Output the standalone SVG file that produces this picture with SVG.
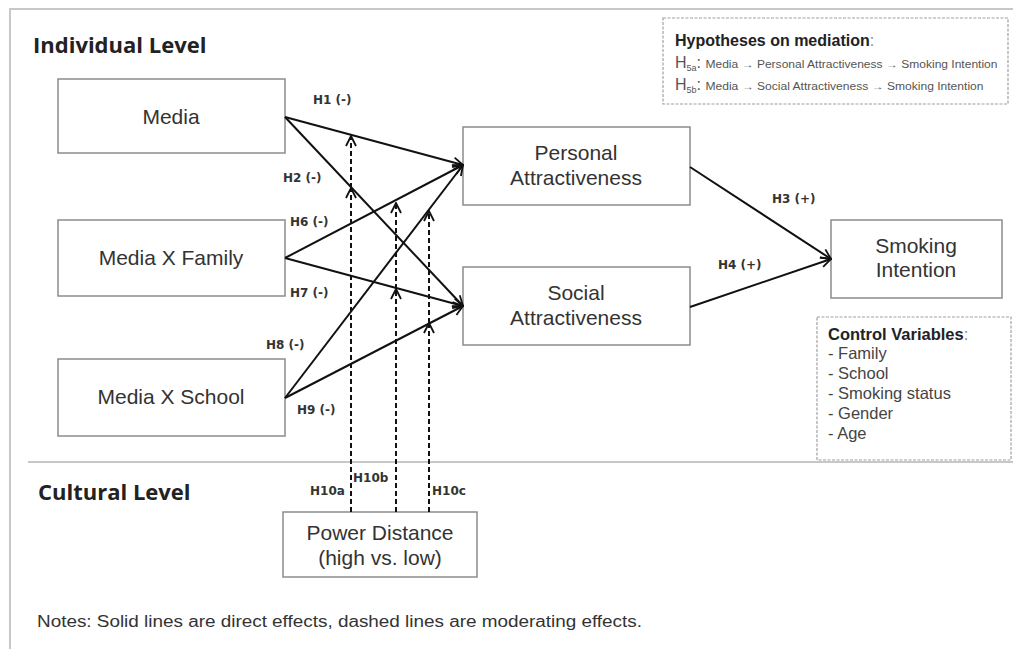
<svg xmlns="http://www.w3.org/2000/svg" width="1013" height="649" viewBox="0 0 1013 649">
<style>
.frame{stroke:#c8c8c8;stroke-width:2;fill:none}
.box{fill:#fff;stroke:#8c8c8c;stroke-width:1.5}
.dbox{fill:#fff;stroke:#a0a0a0;stroke-width:1.2;stroke-dasharray:3,1.5}
.bt{font-family:"Liberation Sans",Arial,sans-serif;font-size:21px;fill:#333;text-anchor:middle}
.lvl{font-family:"Open Sans","Liberation Sans",sans-serif;font-weight:bold;font-size:22px;fill:#222}
.hl{font-family:"DejaVu Sans",sans-serif;font-weight:bold;font-size:12px;fill:#333}
.solid{stroke:#111;stroke-width:2;fill:none}
.dash{stroke:#111;stroke-width:2;fill:none;stroke-dasharray:5,3}
.sm{font-family:"Liberation Sans",Arial,sans-serif;fill:#555}
.cv{font-family:"Liberation Sans",Arial,sans-serif;font-size:16.5px;fill:#444}
</style>
<defs>
<marker id="arr" viewBox="0 0 12 12" refX="11" refY="6" markerWidth="12" markerHeight="12" orient="auto" markerUnits="userSpaceOnUse">
<path d="M1,1 L11,6 L1,11" fill="none" stroke="#111" stroke-width="1.8"/>
</marker>
</defs>
<rect width="1013" height="649" fill="#fff"/>
<g id="frame">
<path class="frame" d="M10,649 L10,9 L1013,9"/>
<path class="frame" d="M28,462 L1013,462"/>
<text class="lvl" x="33" y="53">Individual Level</text>
<text class="lvl" x="38" y="500">Cultural Level</text>
</g>
<g id="hyp-box">
<rect class="dbox" x="663" y="18" width="345" height="86"/>
<text x="675" y="46" font-family="Liberation Sans,Arial,sans-serif" font-weight="bold" font-size="16" fill="#222">Hypotheses on mediation<tspan font-weight="normal" fill="#888">:</tspan></text>
<text class="sm" x="675" y="68" font-size="16">H<tspan font-size="9" dy="3">5a</tspan><tspan dy="-3">: </tspan><tspan font-size="10" textLength="292" lengthAdjust="spacingAndGlyphs">Media → Personal Attractiveness  → Smoking Intention</tspan></text>
<text class="sm" x="675" y="90" font-size="16">H<tspan font-size="9" dy="3">5b</tspan><tspan dy="-3">: </tspan><tspan font-size="10" textLength="278" lengthAdjust="spacingAndGlyphs">Media → Social Attractiveness  → Smoking Intention</tspan></text>
</g>
<g id="media">
<rect class="box" x="58" y="79" width="227" height="74"/>
<text class="bt" x="171" y="124">Media</text>
</g>
<g id="media-family">
<rect class="box" x="58" y="220" width="227" height="76"/>
<text class="bt" x="171" y="265">Media X Family</text>
</g>
<g id="media-school">
<rect class="box" x="58" y="359" width="227" height="77"/>
<text class="bt" x="171" y="404">Media X School</text>
</g>
<g id="personal">
<rect class="box" x="463" y="127" width="227" height="78"/>
<text class="bt" x="576" y="160">Personal</text>
<text class="bt" x="576" y="185">Attractiveness</text>
</g>
<g id="social">
<rect class="box" x="463" y="267" width="227" height="78"/>
<text class="bt" x="576" y="300">Social</text>
<text class="bt" x="576" y="325">Attractiveness</text>
</g>
<g id="smoking">
<rect class="box" x="831" y="220" width="171" height="78"/>
<text class="bt" x="916" y="253">Smoking</text>
<text class="bt" x="916" y="277">Intention</text>
</g>
<g id="control">
<rect class="dbox" x="817" y="317" width="194" height="143"/>
<text class="cv" x="828" y="340"><tspan font-weight="bold" fill="#222">Control Variables</tspan><tspan fill="#888">:</tspan></text>
<text class="cv" x="828" y="359">-  Family</text>
<text class="cv" x="828" y="379">-  School</text>
<text class="cv" x="828" y="399">-  Smoking status</text>
<text class="cv" x="828" y="419">- Gender</text>
<text class="cv" x="828" y="439">- Age</text>
</g>
<g id="power">
<rect class="box" x="283" y="512" width="194" height="65"/>
<text class="bt" x="380" y="540">Power Distance</text>
<text class="bt" x="380" y="565">(high vs. low)</text>
</g>
<g id="connectors">
<line class="solid" x1="285" y1="117" x2="463" y2="165" marker-end="url(#arr)"/>
<line class="solid" x1="285" y1="117" x2="463" y2="306" marker-end="url(#arr)"/>
<line class="solid" x1="285" y1="258" x2="463" y2="165" marker-end="url(#arr)"/>
<line class="solid" x1="285" y1="258" x2="463" y2="306" marker-end="url(#arr)"/>
<line class="solid" x1="285" y1="398" x2="463" y2="165" marker-end="url(#arr)"/>
<line class="solid" x1="285" y1="398" x2="463" y2="306" marker-end="url(#arr)"/>
<line class="solid" x1="690" y1="167" x2="831" y2="259" marker-end="url(#arr)"/>
<line class="solid" x1="690" y1="307" x2="831" y2="259" marker-end="url(#arr)"/>
<line class="dash" x1="351" y1="512" x2="351" y2="188" marker-end="url(#arr)"/>
<line class="dash" x1="351" y1="188" x2="351" y2="136" marker-end="url(#arr)"/>
<line class="dash" x1="396" y1="512" x2="396" y2="289" marker-end="url(#arr)"/>
<line class="dash" x1="396" y1="289" x2="396" y2="203" marker-end="url(#arr)"/>
<line class="dash" x1="429" y1="512" x2="429" y2="323" marker-end="url(#arr)"/>
<line class="dash" x1="429" y1="323" x2="429" y2="211" marker-end="url(#arr)"/>
</g>
<g id="labels">
<text class="hl" x="313" y="104">H1 (-)</text>
<text class="hl" x="283" y="182">H2 (-)</text>
<text class="hl" x="290" y="226">H6 (-)</text>
<text class="hl" x="290" y="297">H7 (-)</text>
<text class="hl" x="266" y="349">H8 (-)</text>
<text class="hl" x="297" y="414">H9 (-)</text>
<text class="hl" x="772" y="203">H3 (+)</text>
<text class="hl" x="718" y="269">H4 (+)</text>
<text class="hl" x="310" y="495">H10a</text>
<text class="hl" x="353" y="482">H10b</text>
<text class="hl" x="432" y="495">H10c</text>
</g>
<text x="37" y="627" font-family="Liberation Sans,Arial,sans-serif" font-size="16" fill="#333" textLength="605" lengthAdjust="spacingAndGlyphs">Notes: Solid lines are direct effects, dashed lines are moderating effects.</text>
</svg>
